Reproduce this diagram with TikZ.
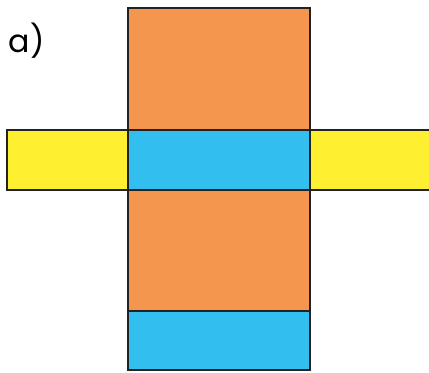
\documentclass[tikz,border=0pt]{standalone}
\usepackage{fontspec}
\setsansfont{Poppins}
\usetikzlibrary{positioning}
\definecolor{netorange}{HTML}{F5964F}
\definecolor{netblue}{HTML}{33BEF0}
\definecolor{netyellow}{HTML}{FEF031}
\definecolor{netline}{HTML}{222222}

\begin{document}
\begin{tikzpicture}[
		face/.style={draw=netline, line width=1.6pt, outer sep=0pt, inner sep=0pt,
			minimum width=3.64cm},
		side/.style={face, minimum width=2.42cm, minimum height=1.2cm, fill=netyellow}
		]
		\clip (0,0) rectangle (8.58,-7.44);
		\useasboundingbox (0,0) rectangle (8.58,-7.44);
		
		\node[face, fill=netorange, minimum height=2.44cm, anchor=north west] (top) at (2.56,-0.16) {};
		\node[face, fill=netblue, minimum height=1.2cm, below=0cm of top] (mid) {};
		\node[face, fill=netorange, minimum height=2.42cm, below=0cm of mid] (low) {};
		\node[face, fill=netblue, minimum height=1.18cm, below=0cm of low] (base) {};
		
		\node[side, left=0cm of mid] (sideL) {};
		\node[side, right=0cm of mid] (sideR) {};
		
		\node[font=\sffamily\fontsize{18}{22}\selectfont] (lbl) at (0.53,-0.82) {a)};
	\end{tikzpicture}
\end{document}
